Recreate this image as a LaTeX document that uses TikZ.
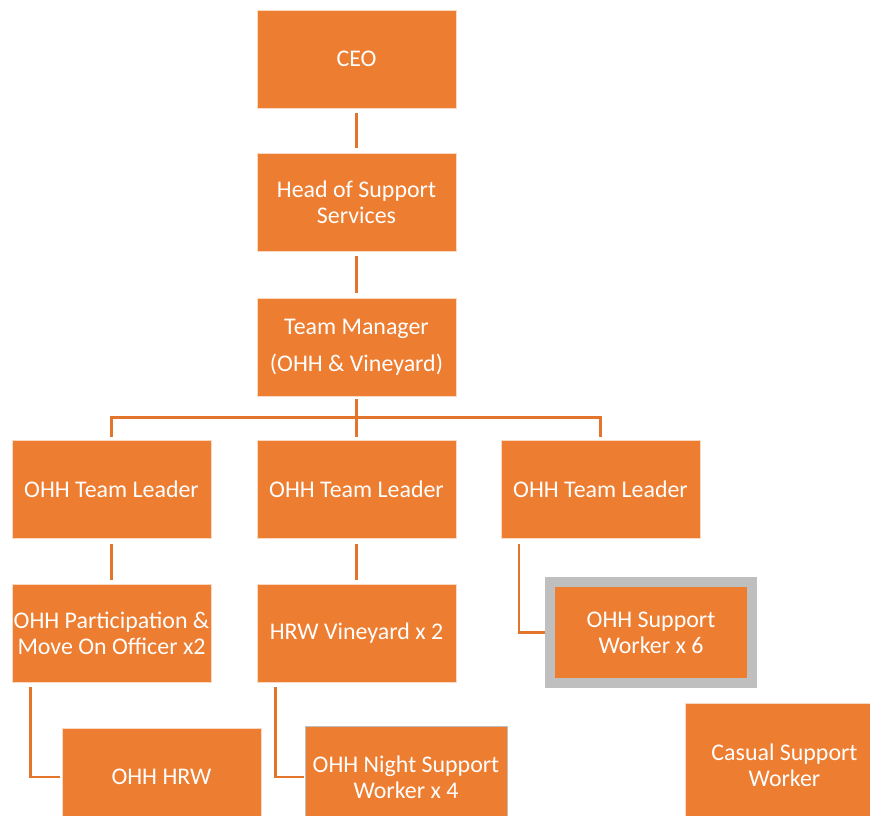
\documentclass[tikz,border=0pt]{standalone}
\usepackage{fontspec}
\setmainfont{Carlito}
\definecolor{org}{HTML}{ED7D31}
\definecolor{lin}{HTML}{E3742C}
\definecolor{grayb}{HTML}{BFBFBF}
\begin{document}
\begin{tikzpicture}[x=1bp,y=-1bp,
  box/.style={fill=org, draw=white!70!org, line width=0.8bp, text=white, align=center, inner sep=0pt,
    minimum width=199bp, minimum height=98bp, font=\fontsize{24}{26}\selectfont},
  conn/.style={draw=lin, line width=2.6bp},
]
\useasboundingbox (0,0) rectangle (870,816);
\clip (0,0) rectangle (870,816);
\node[box] (ceo) at (356.5,59) {CEO};
\node[box] (head) at (356.5,202) {Head of Support\\Services};
\node[box, font=\fontsize{24}{37}\selectfont] (tm) at (356.5,347) {Team Manager\\(OHH \& Vineyard)};
\node[box] (tll) at (111.5,489) {OHH Team Leader};
\node[box] (tlm) at (356.5,489) {OHH Team Leader};
\node[box] (tlr) at (600.5,489) {OHH Team Leader};
\node[box] (part) at (111.5,633) {OHH Participation \&\\Move On Officer x2};
\node[box] (hrwv) at (356.5,633) {HRW Vineyard x 2};
\node[box, draw=grayb, line width=10bp, minimum width=202bp, minimum height=101bp] (sw) at (651,632.5) {OHH Support\\Worker x 6};
\node[box] (hrw) at (161.5,777) {OHH HRW};
\node[box, draw=grayb, line width=1bp, minimum width=202bp, minimum height=102bp] (night) at (406,777) {OHH Night Support\\Worker x 4};
\node[box, minimum height=124bp] (casual) at (784.5,765) {Casual Support\\Worker};
\coordinate (bus) at (356.5,417.5);
% connectors
\draw[conn, shorten <=5bp, shorten >=5bp] (ceo) -- (head);
\draw[conn, shorten <=5bp, shorten >=5bp] (head) -- (tm);
\draw[conn, shorten <=3bp] (tm) -- (bus);
\draw[conn, shorten >=3bp] (bus) -| (tll.north);
\draw[conn, shorten >=3bp] (bus) -| (tlr.north);
\draw[conn, shorten >=3bp] (bus) -- (tlm.north);
\draw[conn, shorten <=6bp, shorten >=4bp] (tll) -- (part);
\draw[conn, shorten <=6bp, shorten >=4bp] (tlm) -- (hrwv);
\draw[conn, shorten <=6bp] ([xshift=18.5bp]tlr.south west) |- (sw.west);
\draw[conn, shorten <=5bp, shorten >=2bp] ([xshift=19bp]part.south west) |- (hrw.west);
\draw[conn, shorten <=5bp, shorten >=1bp] ([xshift=19bp]hrwv.south west) |- (night.west);
\end{tikzpicture}
\end{document}
